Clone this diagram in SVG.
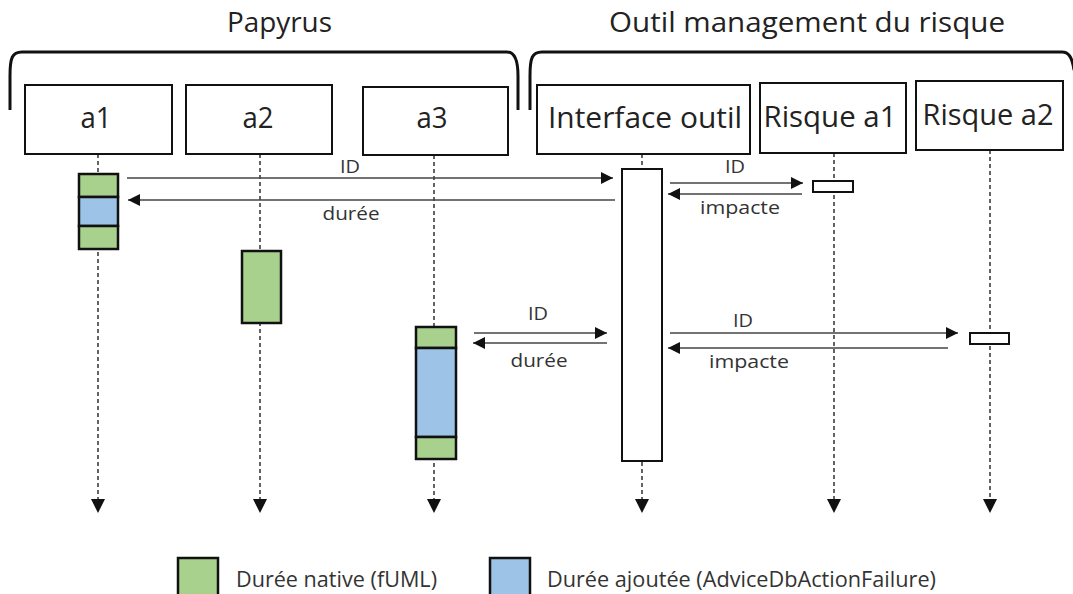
<svg xmlns="http://www.w3.org/2000/svg" width="1073" height="594" viewBox="0 0 1073 594">
<style>
text{font-family:"Open Sans","Liberation Sans",Arial,sans-serif;fill:#222;}
.title{font-size:27px;}
.head{font-size:29px;text-anchor:middle;}
.lbl{font-size:18px;text-anchor:middle;fill:#333;}
.leg{font-size:21px;fill:#333;}
.box{fill:#fff;stroke:#111;stroke-width:2;}
.act{stroke:#111;stroke-width:2.5;}
.green{fill:#A9D18E;}
.blue{fill:#9DC3E6;}
.life{stroke:#111;stroke-width:1.3;stroke-dasharray:4 3;fill:none;}
.msg{stroke:#444;stroke-width:1.5;fill:none;}
.brace{fill:none;stroke:#111;stroke-width:3;}
.tip{fill:#111;}
</style>
<defs>
<marker id="ah" viewBox="0 0 12 12" refX="12" refY="6" markerWidth="12" markerHeight="12" markerUnits="userSpaceOnUse" orient="auto">
<path d="M0,0 L12,6 L0,12 z" fill="#111"/>
</marker>
</defs>

<g id="groups">
<text class="title" x="227" y="32" textLength="105" lengthAdjust="spacingAndGlyphs">Papyrus</text>
<text class="title" x="609" y="32" textLength="396" lengthAdjust="spacingAndGlyphs">Outil management du risque</text>
<path class="brace" d="M10 110 L10 76 C10 58 12 52 22 52 L507 52 C514 52 518 58 518 76 L518 110"/>
<path class="brace" d="M530 110 L530 76 C530 58 532 52 542 52 L1062 52 C1068 52 1072 56 1074 70"/>
</g>

<g id="lifelines">
<path class="life" d="M98 154 V499 M260 154 V499 M434 155 V499 M642 154 V499 M834 153 V499 M990 150 V499"/>
<path class="tip" d="M91 499 L105 499 L98 513 z M253 499 L267 499 L260 513 z M427 499 L441 499 L434 513 z M635 499 L649 499 L642 513 z M827 499 L841 499 L834 513 z M983 499 L997 499 L990 513 z"/>
</g>

<g id="a1">
<rect class="box" x="25" y="85" width="147" height="69"/>
<text class="head" x="96" y="128" font-size="32" textLength="31" lengthAdjust="spacingAndGlyphs">a1</text>
<rect class="act green" x="79" y="174" width="39" height="23"/>
<rect class="act blue" x="79" y="197" width="39" height="29"/>
<rect class="act green" x="79" y="226" width="39" height="23"/>
</g>

<g id="a2">
<rect class="box" x="186" y="85" width="146" height="69"/>
<text class="head" x="258" y="128" font-size="32" textLength="31" lengthAdjust="spacingAndGlyphs">a2</text>
<rect class="act green" x="242" y="251" width="39" height="72"/>
</g>

<g id="a3">
<rect class="box" x="363" y="87" width="145" height="68"/>
<text class="head" x="432" y="128" font-size="32" textLength="31" lengthAdjust="spacingAndGlyphs">a3</text>
<rect class="act green" x="416" y="327" width="40" height="21"/>
<rect class="act blue" x="416" y="348" width="40" height="89"/>
<rect class="act green" x="416" y="437" width="40" height="22"/>
</g>

<g id="interface">
<rect class="box" x="537" y="85" width="213" height="69"/>
<text class="head" x="645" y="128" textLength="194" lengthAdjust="spacingAndGlyphs">Interface outil</text>
<rect class="box" x="622" y="169" width="40" height="292"/>
</g>

<g id="risque_a1">
<rect class="box" x="760" y="83" width="146" height="70"/>
<text class="head" x="830" y="127" textLength="133" lengthAdjust="spacingAndGlyphs">Risque a1</text>
<rect class="box" x="813" y="181" width="40" height="11"/>
</g>

<g id="risque_a2">
<rect class="box" x="916" y="81" width="147" height="69"/>
<text class="head" x="988" y="125" textLength="131" lengthAdjust="spacingAndGlyphs">Risque a2</text>
<rect class="box" x="970" y="333" width="39" height="11"/>
</g>

<g id="connectors">
<line class="msg" x1="127" y1="178" x2="613" y2="178" marker-end="url(#ah)"/>
<text class="lbl" x="350" y="173" textLength="20" lengthAdjust="spacingAndGlyphs">ID</text>
<line class="msg" x1="615" y1="200" x2="128" y2="200" marker-end="url(#ah)"/>
<text class="lbl" x="351" y="220" textLength="57" lengthAdjust="spacingAndGlyphs">durée</text>

<line class="msg" x1="670" y1="183" x2="803" y2="183" marker-end="url(#ah)"/>
<text class="lbl" x="735" y="173" textLength="20" lengthAdjust="spacingAndGlyphs">ID</text>
<line class="msg" x1="802" y1="194" x2="668" y2="194" marker-end="url(#ah)"/>
<text class="lbl" x="740" y="214" textLength="80" lengthAdjust="spacingAndGlyphs">impacte</text>

<line class="msg" x1="474" y1="333" x2="607" y2="333" marker-end="url(#ah)"/>
<text class="lbl" x="538" y="320" textLength="20" lengthAdjust="spacingAndGlyphs">ID</text>
<line class="msg" x1="607" y1="343" x2="473" y2="343" marker-end="url(#ah)"/>
<text class="lbl" x="539" y="367" textLength="57" lengthAdjust="spacingAndGlyphs">durée</text>

<line class="msg" x1="670" y1="333" x2="958" y2="333" marker-end="url(#ah)"/>
<text class="lbl" x="743" y="327" textLength="20" lengthAdjust="spacingAndGlyphs">ID</text>
<line class="msg" x1="948" y1="348" x2="668" y2="348" marker-end="url(#ah)"/>
<text class="lbl" x="749" y="368" textLength="80" lengthAdjust="spacingAndGlyphs">impacte</text>
</g>

<g id="legend">
<rect class="act green" x="178" y="558" width="40" height="40"/>
<text class="leg" x="236" y="587" textLength="201" lengthAdjust="spacingAndGlyphs">Durée native (fUML)</text>
<rect class="act blue" x="490" y="558" width="40" height="40"/>
<text class="leg" x="547" y="587" textLength="389" lengthAdjust="spacingAndGlyphs">Durée ajoutée (AdviceDbActionFailure)</text>
</g>
</svg>
